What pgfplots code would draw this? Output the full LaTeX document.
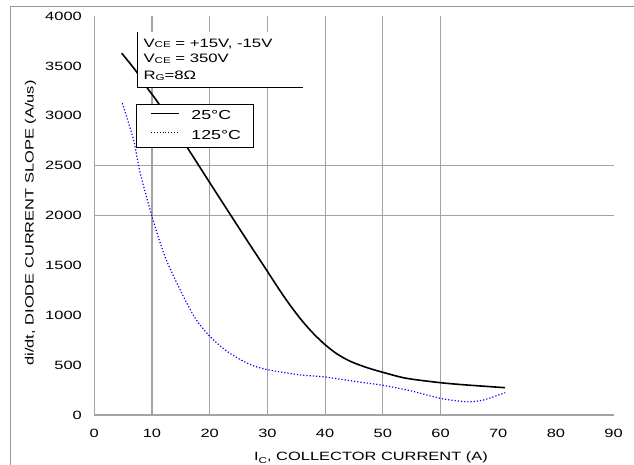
\documentclass[border=0pt]{standalone}
\usepackage{fontspec}
\setmainfont{Liberation Sans}[FakeStretch=1.37]
\usepackage{pgfplots}
\pgfplotsset{compat=1.18}
\definecolor{gridgray}{RGB}{163,163,163}
\definecolor{framegray}{RGB}{150,150,150}
\begin{document}
\begin{tikzpicture}[x=1pt,y=1pt]
\useasboundingbox (0,0) rectangle (634,464);
\draw[framegray, line width=1pt] (10,-5) -- (10,457) -- (640,457);
\begin{axis}[
  at={(94.3pt,49pt)}, anchor=south west,
  scale only axis, width=519.3pt, height=399pt,
  xmin=0, xmax=90, ymin=0, ymax=4000,
  axis lines*=left,
  axis line style={-, draw=gridgray, line width=1.2pt},
  xtick={0,10,...,90}, ytick={0,500,...,4000},
  major tick length=0pt,
  extra x ticks={10,20,30,40,50,60}, extra x tick labels={},
  extra y ticks={2000,2500}, extra y tick labels={},
  extra tick style={grid=major, major grid style={draw=gridgray, line width=1.2pt}},
  /pgf/number format/assume math mode=true,
  /pgf/number format/1000 sep={},
  scaled y ticks=false,
  tick label style={font=\fontsize{12}{12}\selectfont},
  yticklabel style={inner sep=0pt, anchor=east, xshift=-12.3pt},
  xticklabel style={inner sep=0pt, anchor=north, yshift=-14pt},
  legend style={at={(0.0803,0.7794)}, anchor=north west, draw=black, line width=0.9pt,
    fill=white, inner xsep=14pt, inner ysep=6.5pt, row sep=8.4pt, column sep=12pt,
    font=\fontsize{13}{13}\selectfont,
    nodes={inner sep=0pt, text height=9pt, text depth=2pt}},
  legend cell align=left,
  legend image code/.code={\draw[#1, line width=0.9pt] (0pt,3.5pt) -- (28pt,3.5pt);},
]
\addplot[black, line width=1.6pt, smooth, tension=0.5] coordinates {
 (4.75,3627) (7.2,3450) (9.2,3277) (11.1,3126) (16.0,2691) (20,2330) (23.8,1989)
 (27,1704) (30,1440) (32,1262) (34,1095) (36,945) (38,815) (40,705) (42,615)
 (44.3,540) (47,480) (50,428) (54.1,368) (60,324) (64.5,301) (71.2,274)
};
\addlegendentry{\makebox[48pt][l]{25°C}}
\addplot[blue, dotted, line width=1.2pt, smooth, tension=0.5, forget plot] coordinates {
 (4.85,3126) (6.8,2758) (7.9,2440) (10,1990) (12.25,1588) (15,1240) (17.5,970)
 (20,790) (22.5,660) (25,565) (27.5,495) (30,455) (33,425) (36,400) (40,381)
 (45.5,334) (50,298) (55,240) (60,167) (64.5,133) (67.4,150) (71.2,224)
};
\addlegendimage{black, dotted}
\addlegendentry{\makebox[48pt][l]{125°C}}
\end{axis}
% annotation box
\fill[white] (137,376) rectangle (303,432);
\draw[black, line width=1pt] (137,432) -- (137,376) -- (303,376);
\begin{scope}[every node/.style={anchor=base west, inner sep=0pt, font=\fontsize{12.2}{12.2}\selectfont}]
\node at (143.3,416.7) {V{\fontsize{8.5}{8.5}\selectfont\raisebox{-0.6pt}{CE}} = +15V, -15V};
\node at (143.3,401) {V{\fontsize{8.5}{8.5}\selectfont\raisebox{-0.6pt}{CE}} = 350V};
\node at (143.3,384.3) {R{\fontsize{8.5}{8.5}\selectfont\raisebox{-1.2pt}{G}}=8Ω};
\end{scope}
% axis labels
\node[anchor=base, inner sep=0pt, font=\fontsize{12}{12}\selectfont] at (371,3.5)
  {I{\fontsize{8.5}{8.5}\selectfont\raisebox{-2.5pt}{C}}, COLLECTOR CURRENT (A)};
\node[anchor=base, rotate=90, inner sep=0pt, font=\fontsize{12}{12}\selectfont] at (33.5,241)
  {di/dt, DIODE CURRENT SLOPE (A/us)};
\end{tikzpicture}
\end{document}
